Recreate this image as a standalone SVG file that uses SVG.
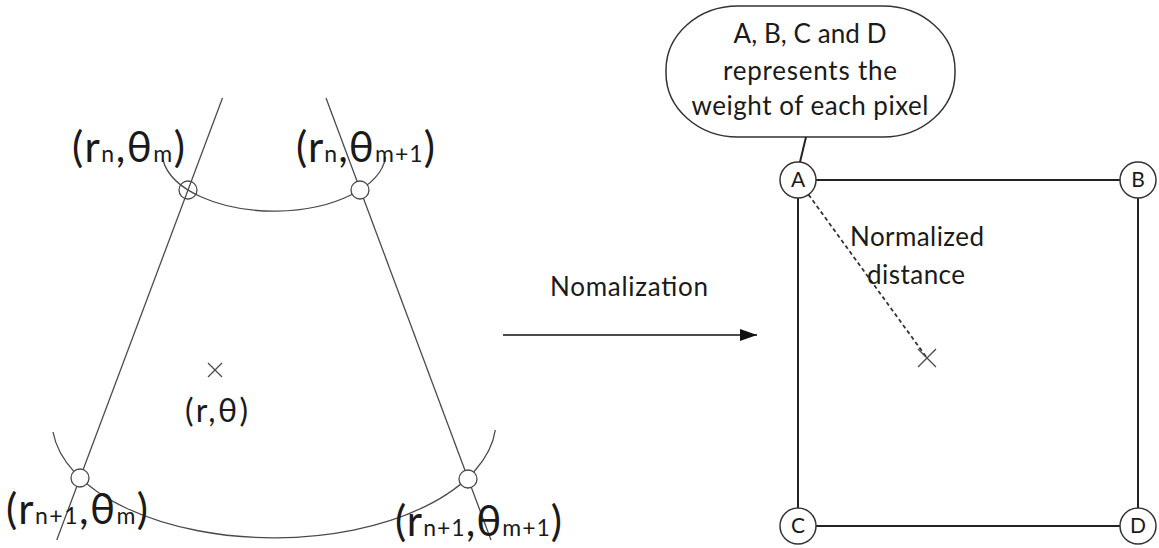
<svg xmlns="http://www.w3.org/2000/svg" width="1159" height="548" viewBox="0 0 1159 548">
<defs>
<style>
.thin{fill:none;stroke:#4a4a4a;stroke-width:1.3}
.pt{fill:#fff;stroke:#4a4a4a;stroke-width:1.3}
.edge{fill:none;stroke:#222;stroke-width:2}
.dash{fill:none;stroke:#333;stroke-width:1.8;stroke-dasharray:4 3}
.node{fill:#fff;stroke:#333;stroke-width:1.5}
.lbl{font-family:Lato,"Open Sans",sans-serif;fill:#1a1a1a}
.big{font-size:42px}
.sub{font-size:23px}
.mid{font-size:26px}
.ltr{font-size:21px;text-anchor:middle}
</style>
<marker id="arr" viewBox="0 0 10 10" refX="10" refY="5" markerWidth="17" markerHeight="12" markerUnits="userSpaceOnUse" orient="auto" preserveAspectRatio="none">
<path d="M0,0 L10,5 L0,10 Z" fill="#111"/>
</marker>
</defs>
<rect width="1159" height="548" fill="#fff"/>

<g id="polar-cell">
<line class="thin" x1="222.5" y1="98" x2="56.75" y2="540"/>
<line class="thin" x1="326" y1="98" x2="491" y2="540"/>
<path class="thin" d="M163,160 A112,59 0 0 0 385.6,157"/>
<path class="thin" d="M53,432 A222,117 0 0 0 495.3,430"/>
<circle cx="188" cy="190" r="9" class="thin"/>
<circle cx="360" cy="190" r="9" class="pt"/>
<circle cx="80" cy="478" r="9" class="pt"/>
<circle cx="468" cy="479" r="9" class="pt"/>
<path class="thin" d="M208,363 L222,377 M222,363 L208,377"/>
</g>

<g id="polar-labels" class="lbl">
<text x="72" y="162" textLength="113" lengthAdjust="spacing"><tspan class="big">(r</tspan><tspan class="sub">n</tspan><tspan class="big">,θ</tspan><tspan class="sub">m</tspan><tspan class="big">)</tspan></text>
<text x="296" y="162" textLength="139" lengthAdjust="spacing"><tspan class="big">(r</tspan><tspan class="sub">n</tspan><tspan class="big">,θ</tspan><tspan class="sub">m+1</tspan><tspan class="big">)</tspan></text>
<text x="6" y="524" textLength="142" lengthAdjust="spacing"><tspan class="big">(r</tspan><tspan class="sub">n+1</tspan><tspan class="big">,θ</tspan><tspan class="sub">m</tspan><tspan class="big">)</tspan></text>
<text x="395" y="536" textLength="167" lengthAdjust="spacing"><tspan class="big">(r</tspan><tspan class="sub">n+1</tspan><tspan class="big">,θ</tspan><tspan class="sub">m+1</tspan><tspan class="big">)</tspan></text>
<text x="185" y="422" font-size="32" textLength="63" lengthAdjust="spacing">(r,θ)</text>
</g>

<g id="label-normalization" class="lbl">
<text x="550" y="296" class="mid" textLength="158" lengthAdjust="spacing">Nomalization</text>
</g>

<g id="callout">
<rect x="666" y="6" width="289" height="131" rx="72" ry="64" class="node"/>
<text class="lbl mid" x="810" y="43" text-anchor="middle" textLength="153" lengthAdjust="spacing">A, B, C and D</text>
<text class="lbl mid" x="810" y="80" text-anchor="middle" textLength="174" lengthAdjust="spacing">represents the</text>
<text class="lbl mid" x="810" y="115" text-anchor="middle" textLength="237" lengthAdjust="spacing">weight of each pixel</text>
</g>

<g id="connectors">
<line x1="503" y1="335" x2="757" y2="335" stroke="#111" stroke-width="1.6" marker-end="url(#arr)"/>
<line class="edge" x1="806" y1="137" x2="800" y2="162" stroke-width="1.5"/>
<line class="edge" x1="816" y1="180" x2="1120" y2="180"/>
<line class="edge" x1="798" y1="198" x2="798" y2="508"/>
<line class="edge" x1="1138" y1="198" x2="1138" y2="508"/>
<line class="edge" x1="816" y1="526" x2="1120" y2="526"/>
<line class="dash" x1="808.5" y1="194.6" x2="927" y2="358"/>
</g>

<g id="sample-point">
<path class="thin" d="M918,349 L936,367 M936,349 L918,367" stroke="#333"/>
</g>

<g id="label-distance" class="lbl">
<text x="850" y="246" class="mid" textLength="134" lengthAdjust="spacing">Normalized</text>
<text x="867" y="284" class="mid" textLength="98" lengthAdjust="spacing">distance</text>
</g>

<g id="node-A"><circle cx="798" cy="180" r="18" class="node"/><text class="lbl ltr" x="798" y="187">A</text></g>
<g id="node-B"><circle cx="1138" cy="180" r="18" class="node"/><text class="lbl ltr" x="1138" y="187">B</text></g>
<g id="node-C"><circle cx="798" cy="526" r="18" class="node"/><text class="lbl ltr" x="798" y="533">C</text></g>
<g id="node-D"><circle cx="1138" cy="526" r="18" class="node"/><text class="lbl ltr" x="1138" y="533">D</text></g>
</svg>
